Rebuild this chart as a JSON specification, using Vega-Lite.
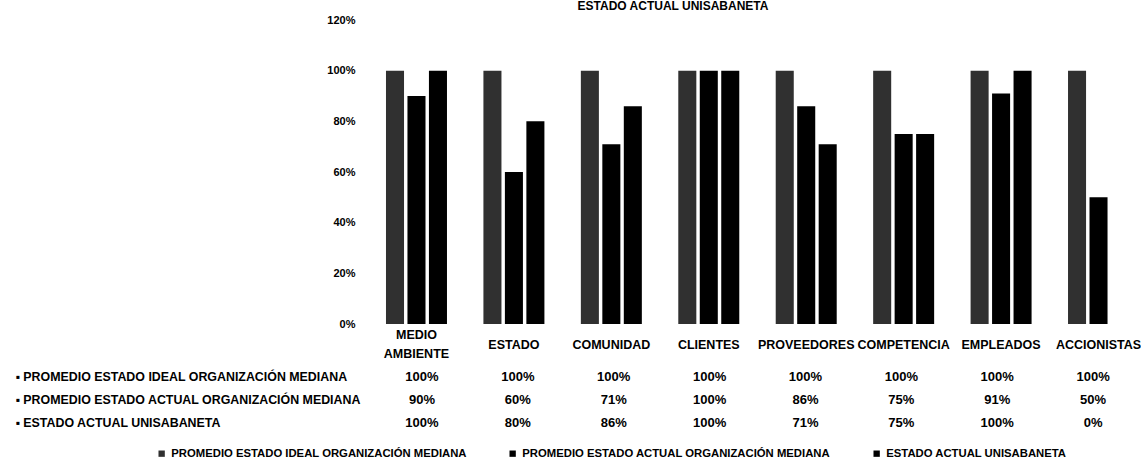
{
  "$schema": "https://vega.github.io/schema/vega-lite/v6.json",
  "background": "white",
  "padding": {"left": 15, "right": 0, "top": 0, "bottom": 0},
  "title": {"text": "ESTADO ACTUAL UNISABANETA", "fontSize": 12, "font": "Liberation Sans", "fontWeight": "bold", "color": "#000000", "anchor": "middle", "dx": 95, "offset": 1},
  "datasets": {
    "d": [
      {"category": "MEDIO AMBIENTE", "series": "PROMEDIO ESTADO IDEAL ORGANIZACIÓN MEDIANA", "value": 1.00},
      {"category": "MEDIO AMBIENTE", "series": "PROMEDIO ESTADO ACTUAL ORGANIZACIÓN MEDIANA", "value": 0.90},
      {"category": "MEDIO AMBIENTE", "series": "ESTADO ACTUAL UNISABANETA", "value": 1.00},
      {"category": "ESTADO", "series": "PROMEDIO ESTADO IDEAL ORGANIZACIÓN MEDIANA", "value": 1.00},
      {"category": "ESTADO", "series": "PROMEDIO ESTADO ACTUAL ORGANIZACIÓN MEDIANA", "value": 0.60},
      {"category": "ESTADO", "series": "ESTADO ACTUAL UNISABANETA", "value": 0.80},
      {"category": "COMUNIDAD", "series": "PROMEDIO ESTADO IDEAL ORGANIZACIÓN MEDIANA", "value": 1.00},
      {"category": "COMUNIDAD", "series": "PROMEDIO ESTADO ACTUAL ORGANIZACIÓN MEDIANA", "value": 0.71},
      {"category": "COMUNIDAD", "series": "ESTADO ACTUAL UNISABANETA", "value": 0.86},
      {"category": "CLIENTES", "series": "PROMEDIO ESTADO IDEAL ORGANIZACIÓN MEDIANA", "value": 1.00},
      {"category": "CLIENTES", "series": "PROMEDIO ESTADO ACTUAL ORGANIZACIÓN MEDIANA", "value": 1.00},
      {"category": "CLIENTES", "series": "ESTADO ACTUAL UNISABANETA", "value": 1.00},
      {"category": "PROVEEDORES", "series": "PROMEDIO ESTADO IDEAL ORGANIZACIÓN MEDIANA", "value": 1.00},
      {"category": "PROVEEDORES", "series": "PROMEDIO ESTADO ACTUAL ORGANIZACIÓN MEDIANA", "value": 0.86},
      {"category": "PROVEEDORES", "series": "ESTADO ACTUAL UNISABANETA", "value": 0.71},
      {"category": "COMPETENCIA", "series": "PROMEDIO ESTADO IDEAL ORGANIZACIÓN MEDIANA", "value": 1.00},
      {"category": "COMPETENCIA", "series": "PROMEDIO ESTADO ACTUAL ORGANIZACIÓN MEDIANA", "value": 0.75},
      {"category": "COMPETENCIA", "series": "ESTADO ACTUAL UNISABANETA", "value": 0.75},
      {"category": "EMPLEADOS", "series": "PROMEDIO ESTADO IDEAL ORGANIZACIÓN MEDIANA", "value": 1.00},
      {"category": "EMPLEADOS", "series": "PROMEDIO ESTADO ACTUAL ORGANIZACIÓN MEDIANA", "value": 0.91},
      {"category": "EMPLEADOS", "series": "ESTADO ACTUAL UNISABANETA", "value": 1.00},
      {"category": "ACCIONISTAS", "series": "PROMEDIO ESTADO IDEAL ORGANIZACIÓN MEDIANA", "value": 1.00},
      {"category": "ACCIONISTAS", "series": "PROMEDIO ESTADO ACTUAL ORGANIZACIÓN MEDIANA", "value": 0.50},
      {"category": "ACCIONISTAS", "series": "ESTADO ACTUAL UNISABANETA", "value": 0.00}
    ]
  },
  "data": {"name": "d"},
  "spacing": 5,
  "vconcat": [
    {
      "width": 767,
      "height": 304,
      "mark": {"type": "bar"},
      "encoding": {
        "x": {
          "field": "category", "type": "nominal",
          "sort": ["MEDIO AMBIENTE", "ESTADO", "COMUNIDAD", "CLIENTES", "PROVEEDORES", "COMPETENCIA", "EMPLEADOS", "ACCIONISTAS"],
          "scale": {"paddingInner": 0.374, "paddingOuter": 0.123},
          "axis": {
            "title": null, "labelAngle": 0, "domain": false, "ticks": false,
            "labelPadding": {"condition": {"test": "datum.value == 'MEDIO AMBIENTE'", "value": 10}, "value": 20},
            "labelBaseline": "middle", "labelFontSize": 12.5,
            "labelFontWeight": "bold", "labelColor": "#000000", "labelLineHeight": 19,
            "labelOverlap": false, "labelLimit": 300,
            "labelExpr": "datum.label == 'MEDIO AMBIENTE' ? ['MEDIO', 'AMBIENTE'] : datum.label"
          }
        },
        "xOffset": {
          "field": "series", "type": "nominal",
          "sort": ["PROMEDIO ESTADO IDEAL ORGANIZACIÓN MEDIANA", "PROMEDIO ESTADO ACTUAL ORGANIZACIÓN MEDIANA", "ESTADO ACTUAL UNISABANETA"],
          "scale": {"paddingInner": 0.16, "paddingOuter": 0}
        },
        "y": {
          "field": "value", "type": "quantitative",
          "scale": {"domain": [0, 1.2]},
          "axis": {
            "title": null, "format": ".0%", "values": [0, 0.2, 0.4, 0.6, 0.8, 1.0, 1.2],
            "domain": false, "ticks": false, "grid": false, "labelPadding": 19,
            "labelFontSize": 11, "labelFontWeight": "bold", "labelColor": "#000000"
          }
        },
        "color": {
          "field": "series", "type": "nominal",
          "scale": {
            "domain": ["PROMEDIO ESTADO IDEAL ORGANIZACIÓN MEDIANA", "PROMEDIO ESTADO ACTUAL ORGANIZACIÓN MEDIANA", "ESTADO ACTUAL UNISABANETA"],
            "range": ["#303030", "#000000", "#000000"]
          },
          "legend": {
            "title": null, "orient": "none", "legendX": -218, "legendY": 428,
            "direction": "horizontal", "columns": 3,
            "symbolType": "square", "symbolSize": 40, "labelFontSize": 11.3,
            "labelFontWeight": "bold", "labelColor": "#000000", "labelLimit": 400,
            "columnPadding": 40, "labelOffset": 4
          }
        }
      }
    },
    {
      "width": 767,
      "height": 69,
      "mark": {"type": "text", "fontSize": 13, "fontWeight": "bold", "baseline": "middle", "color": "#000000"},
      "encoding": {
        "x": {
          "field": "category", "type": "nominal",
          "sort": ["MEDIO AMBIENTE", "ESTADO", "COMUNIDAD", "CLIENTES", "PROVEEDORES", "COMPETENCIA", "EMPLEADOS", "ACCIONISTAS"],
          "scale": {"paddingInner": 0.374, "paddingOuter": 0.123},
          "axis": null
        },
        "y": {
          "field": "series", "type": "nominal",
          "sort": ["PROMEDIO ESTADO IDEAL ORGANIZACIÓN MEDIANA", "PROMEDIO ESTADO ACTUAL ORGANIZACIÓN MEDIANA", "ESTADO ACTUAL UNISABANETA"],
          "scale": {"paddingInner": 0, "paddingOuter": 0},
          "axis": {
            "title": null, "domain": false, "ticks": false, "labelAlign": "left",
            "labelPadding": 359, "labelFontSize": 12.4, "labelFontWeight": "bold",
            "labelColor": "#000000", "labelLimit": 400,
            "labelExpr": "'▪ ' + datum.label"
          }
        },
        "text": {"field": "value", "type": "quantitative", "format": ".0%"}
      }
    }
  ],
  "config": {
    "font": "Liberation Sans",
    "view": {"stroke": null}
  }
}
